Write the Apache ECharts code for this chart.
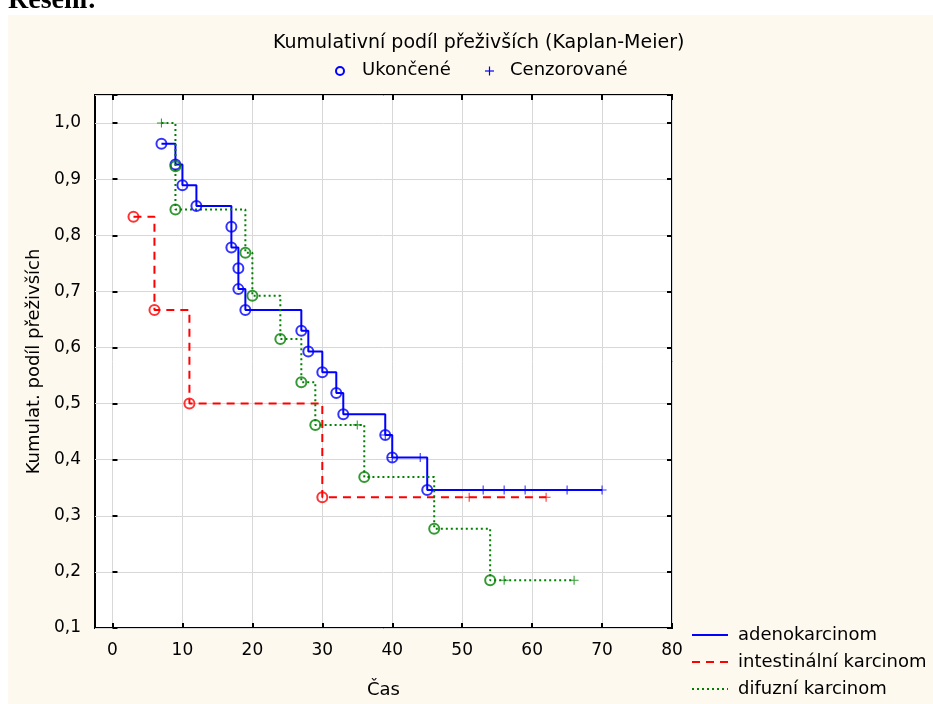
<!DOCTYPE html>
<html>
<head>
<meta charset="utf-8">
<script src="https://cdn.jsdelivr.net/npm/echarts@6/dist/echarts.min.js"></script>
<style>
  html, body { margin: 0; padding: 0; background: #fff; }
  #chart { width: 933px; height: 704px; }
</style>
</head>
<body>
<div id="chart"></div>
<script>
// Kaplan-Meier: časy událostí (Ukončené) a cenzorování, odhad přežití
const adenoEventT = [7, 9, 10, 12, 17, 17, 18, 18, 19, 27, 28, 30, 32, 33, 39, 40, 45];
const adenoEventS = [0.963, 0.926, 0.889, 0.852, 0.815, 0.778, 0.741, 0.704, 0.667, 0.630, 0.593, 0.556, 0.519, 0.481, 0.444, 0.404, 0.346];
const adenoCensT = [39, 40, 44, 53, 56, 59, 65, 70];
const adenoCensS = [0.444, 0.404, 0.404, 0.346, 0.346, 0.346, 0.346, 0.346];

const intestEventT = [3, 6, 11, 30];
const intestEventS = [0.833, 0.667, 0.500, 0.333];
const intestCensT = [51, 62];
const intestCensS = [0.333, 0.333];

const difEventT = [9, 9, 19, 20, 24, 27, 29, 36, 46, 54];
const difEventS = [0.923, 0.846, 0.769, 0.692, 0.615, 0.538, 0.462, 0.369, 0.277, 0.185];
const difCensT = [7, 35, 56, 66];
const difCensS = [1.000, 0.462, 0.185, 0.185];

const groupNames = ['adenokarcinom', 'intestinální karcinom', 'difuzní karcinom'];
const groupColors = ['#0000ff', '#ff0000', '#008000'];

const FONT = 'DejaVu Sans';
const PLUS = 'path://M0,4.4H10V5.6H0Z M4.4,0H5.6V10H4.4Z';

const pairs = (t, s) => t.map((v, i) => [v, s[i]]);

// body schodovité křivky = události + cenzorované, seřazené podle času
const stepPoints = (evT, evS, cT, cS) => {
  let pts = pairs(evT, evS).concat(pairs(cT, cS));
  pts.sort((a, b) => a[0] - b[0] || b[1] - a[1]);
  return pts;
};

const groups = [
  { ev: pairs(adenoEventT, adenoEventS), cens: pairs(adenoCensT, adenoCensS), line: stepPoints(adenoEventT, adenoEventS, adenoCensT, adenoCensS), type: 'solid' },
  { ev: pairs(intestEventT, intestEventS), cens: pairs(intestCensT, intestCensS), line: stepPoints(intestEventT, intestEventS, intestCensT, intestCensS), type: [8, 6] },
  { ev: pairs(difEventT, difEventS), cens: pairs(difCensT, difCensS), line: stepPoints(difEventT, difEventS, difCensT, difCensS), type: [2, 3] }
];

let series = [];
groups.map((g, i) => {
  series.push({
    name: groupNames[i],
    type: 'line',
    step: 'end',
    xAxisIndex: 0, yAxisIndex: 0,
    symbol: 'none',
    data: g.line,
    lineStyle: { color: groupColors[i], width: 2, type: g.type },
    itemStyle: { color: groupColors[i] },
    z: 3
  });
  series.push({
    type: 'scatter',
    xAxisIndex: 0, yAxisIndex: 0,
    symbol: 'circle',
    symbolSize: 10,
    silent: true,
    data: g.ev,
    itemStyle: { color: 'rgba(0,0,0,0)', borderColor: groupColors[i], borderWidth: 2 },
    z: 4
  });
  series.push({
    type: 'scatter',
    xAxisIndex: 0, yAxisIndex: 0,
    symbol: PLUS,
    symbolSize: 9,
    silent: true,
    data: g.cens,
    itemStyle: { color: groupColors[i] },
    z: 4
  });
  return g;
});

const tickStyle = { show: true, inside: true, length: 5, lineStyle: { color: '#000', width: 2 } };
const labelStyle = { color: '#000', fontSize: 17, fontFamily: FONT };
const gridLine = { show: true, lineStyle: { color: '#d8d8d8', width: 1 } };

const option = {
  backgroundColor: '#fef9ef',
  animation: false,
  title: {
    text: 'Kumulativní podíl přeživších (Kaplan-Meier)',
    left: 268, top: 29,
    textStyle: { color: '#000', fontSize: 19, fontWeight: 'normal', fontFamily: FONT }
  },
  graphic: [
    { type: 'rect', left: 0, top: 0, shape: { width: 933, height: 15 }, style: { fill: '#fff' } },
    { type: 'rect', left: 0, top: 0, shape: { width: 8, height: 704 }, style: { fill: '#fff' } },
    { type: 'text', left: 8, top: -13, style: { text: 'Řešení:', fill: '#000', font: 'bold 28px "Liberation Serif"' } },
    { type: 'circle', shape: { cx: 340, cy: 71, r: 4 }, style: { fill: 'none', stroke: '#0000ff', lineWidth: 2 } },
    { type: 'text', left: 362, top: 61, style: { text: 'Ukončené', fill: '#000', font: '18px "DejaVu Sans"' } },
    { type: 'rect', shape: { x: 485, y: 70.4, width: 9, height: 1.2 }, style: { fill: '#0000ff' } },
    { type: 'rect', shape: { x: 488.9, y: 66.5, width: 1.2, height: 9 }, style: { fill: '#0000ff' } },
    { type: 'text', left: 510, top: 61, style: { text: 'Cenzorované', fill: '#000', font: '18px "DejaVu Sans"' } }
  ],
  legend: {
    data: groupNames,
    orient: 'vertical',
    left: 691, top: 624,
    padding: 0,
    itemWidth: 36, itemHeight: 14, itemGap: 5,
    itemStyle: { color: 'rgba(0,0,0,0)', borderWidth: 0 },
    textStyle: { color: '#000', fontSize: 18, fontFamily: FONT, lineHeight: 22, padding: [0, 0, 0, 5] }
  },
  grid: [
    { left: 95, top: 95, width: 577, height: 533, show: true, backgroundColor: '#fff', borderColor: '#000', borderWidth: 2 },
    { left: 112.5, top: 95, width: 559.5, height: 533 }
  ],
  xAxis: [
    {
      gridIndex: 0, type: 'value', min: -2.5, max: 80,
      axisLine: { show: false }, axisTick: { show: false }, axisLabel: { show: false }, splitLine: { show: false },
      name: 'Čas', nameLocation: 'middle', nameGap: 53,
      nameTextStyle: { color: '#000', fontSize: 18, fontFamily: FONT }
    },
    {
      gridIndex: 1, type: 'value', min: 0, max: 80, interval: 10, position: 'bottom',
      axisLine: { show: false }, axisTick: tickStyle,
      axisLabel: Object.assign({ margin: 14 }, labelStyle),
      splitLine: gridLine
    },
    {
      gridIndex: 1, type: 'value', min: 0, max: 80, interval: 10, position: 'top',
      axisLine: { show: false }, axisTick: tickStyle, axisLabel: { show: false }, splitLine: { show: false }
    }
  ],
  yAxis: [
    {
      gridIndex: 0, type: 'value', min: 0.1, max: 1.05, interval: 0.1,
      axisLine: { show: false }, axisTick: tickStyle,
      axisLabel: Object.assign({
        margin: 14,
        formatter: (v) => Math.abs(v - 1.05) < 1e-6 ? '' : v.toFixed(1).replace('.', ',')
      }, labelStyle),
      splitLine: gridLine,
      name: 'Kumulat. podíl přeživších', nameLocation: 'middle', nameGap: 52, nameRotate: 90,
      nameTextStyle: { color: '#000', fontSize: 18, fontFamily: FONT }
    },
    {
      gridIndex: 0, type: 'value', min: 0.1, max: 1.05, interval: 0.1, position: 'right',
      axisLine: { show: false }, axisTick: tickStyle, axisLabel: { show: false }, splitLine: { show: false }
    },
    { gridIndex: 1, type: 'value', min: 0.1, max: 1.05, show: false }
  ],
  series: series
};

const myChart = echarts.init(document.getElementById('chart'));
myChart.setOption(option);
</script>
</body>
</html>
